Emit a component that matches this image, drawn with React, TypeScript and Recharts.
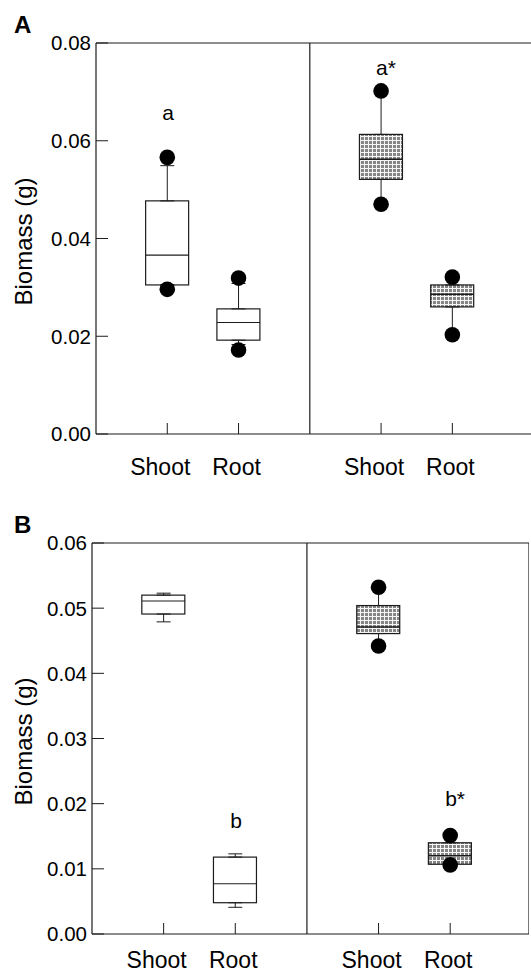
import React from 'react';
import { ComposedChart, Bar, Scatter, XAxis, YAxis, ReferenceLine, ErrorBar } from 'recharts';

const FONT = '"Liberation Sans", Arial, Helvetica, sans-serif';
const INK = '#1c1c1c';

// categories
const xPositions = [1, 2, 4, 5];
const xLabels = ['Shoot', 'Root', 'Shoot', 'Root'];
const hatched = [false, false, true, true];

// Panel A
const aTicks = [0, 0.02, 0.04, 0.06, 0.08];
const aQ1 = [0.0305, 0.0192, 0.0521, 0.026];
const aMedian = [0.0366, 0.0228, 0.0562, 0.0286];
const aQ3 = [0.0477, 0.0256, 0.0613, 0.0305];
const aWhiskerLow = [0.0305, 0.0183, 0.047, 0.0203];
const aWhiskerHigh = [0.0549, 0.0308, 0.0702, 0.0321];
const aOutliers = [
  [0.0566, 0.0296],
  [0.0319, 0.0172],
  [0.0702, 0.047],
  [0.0321, 0.0203],
];
const aNoteText = ['a', 'a*'];
const aNoteX = [1, 4];
const aNoteY = [0.0657, 0.0751];

// Panel B
const bTicks = [0, 0.01, 0.02, 0.03, 0.04, 0.05, 0.06];
const bQ1 = [0.0491, 0.0048, 0.0461, 0.0107];
const bMedian = [0.0511, 0.0077, 0.0471, 0.012];
const bQ3 = [0.052, 0.0118, 0.0504, 0.014];
const bWhiskerLow = [0.0479, 0.0041, 0.0442, 0.0107];
const bWhiskerHigh = [0.0523, 0.0123, 0.0532, 0.0151];
const bOutliers = [[], [], [0.0532, 0.0442], [0.0151, 0.0106]];
const bNoteText = ['b', 'b*'];
const bNoteX = [2, 5];
const bNoteY = [0.0174, 0.0208];

function buildRows(q1: number[], med: number[], q3: number[], wLow: number[], wHigh: number[]) {
  return xPositions.map((x, i) => ({
    x,
    q1: q1[i],
    median: med[i],
    q3: q3[i],
    box: [q1[i], q3[i]],
    upperErr: [0, Math.max(0, wHigh[i] - q3[i])],
    lowerErr: [Math.max(0, q1[i] - wLow[i]), 0],
    hatched: hatched[i],
  }));
}
function buildDots(outliers: number[][]) {
  return outliers.flatMap((vals, i) => vals.map((v) => ({ x: xPositions[i], y: v })));
}
function buildNotes(text: string[], xs: number[], ys: number[]) {
  return text.map((t, i) => ({ x: xs[i], y: ys[i], text: t }));
}

const rowsA = buildRows(aQ1, aMedian, aQ3, aWhiskerLow, aWhiskerHigh);
const rowsB = buildRows(bQ1, bMedian, bQ3, bWhiskerLow, bWhiskerHigh);
const dotsA = buildDots(aOutliers);
const dotsB = buildDots(bOutliers);
const notesA = buildNotes(aNoteText, aNoteX, aNoteY);
const notesB = buildNotes(bNoteText, bNoteX, bNoteY);

const BOX_W = 43;

const BoxShape = (props: any) => {
  const { x, y, width, height, payload } = props;
  if (x == null || y == null) return <g />;
  const top = Math.min(y, y + height);
  const h = Math.abs(height);
  const isH = payload && payload.hatched;
  return (
    <g>
      {isH && (
        <defs>
          <pattern id="hatchPat" width={4} height={4} patternUnits="userSpaceOnUse">
            <rect width={4} height={4} fill="#858585" />
            <path d="M0 0.5H4M0.5 0V4" stroke="#f6f6f6" strokeWidth={1} />
          </pattern>
        </defs>
      )}
      <rect x={x} y={top} width={width} height={h} fill={isH ? 'url(#hatchPat)' : '#fff'} stroke={INK} strokeWidth={1.2} />
    </g>
  );
};

const MedianShape = (props: any) => {
  const { cx, cy, payload } = props;
  if (cx == null || cy == null) return <g />;
  return (
    <line x1={cx - BOX_W / 2} x2={cx + BOX_W / 2} y1={cy} y2={cy} stroke={INK} strokeWidth={payload && payload.hatched ? 1.6 : 1.1} />
  );
};

const EmptyShape = () => <g />;

const DotShape = (props: any) => {
  const { cx, cy } = props;
  if (cx == null || cy == null) return <g />;
  return <circle cx={cx} cy={cy} r={7.8} fill="#000" />;
};

const NoteShape = (props: any) => {
  const { cx, cy, payload } = props;
  if (cx == null || cy == null) return <g />;
  return (
    <text x={cx - 5} y={cy} dy="0.36em" textAnchor="start" fontSize={21} fontFamily={FONT} fill="#000">
      {payload.text}
    </text>
  );
};

const makeXTick = (labelOffset: number) => (props: any) => {
  const { x, y, payload } = props;
  const idx = xPositions.indexOf(payload.value);
  const label = idx >= 0 ? xLabels[idx] : '';
  const dx = label === 'Shoot' ? -7 : -2;
  return (
    <g>
      <line x1={x} x2={x} y1={y} y2={y - 11} stroke={INK} strokeWidth={1} />
      <text x={x + dx} y={y + labelOffset} textAnchor="middle" fontSize={23} fontFamily={FONT} fill="#000">
        {label}
      </text>
    </g>
  );
};

const YTick = (props: any) => {
  const { x, y, payload } = props;
  const axisX = x + 5;
  return (
    <g>
      <line x1={axisX} x2={axisX + 12} y1={y} y2={y} stroke={INK} strokeWidth={1} />
      <text x={x} y={y} dy="0.36em" textAnchor="end" fontSize={20.5} fontFamily={FONT} fill="#000">
        {Number(payload.value).toFixed(2)}
      </text>
    </g>
  );
};

const makeYLabel = (fallback: any) => (props: any) => {
  const vb = (props && props.viewBox) || fallback;
  const cx = vb.x + 23;
  const cy = vb.y + vb.height / 2 + 3;
  return (
    <text x={cx} y={cy} transform={`rotate(-90 ${cx} ${cy})`} textAnchor="middle" dominantBaseline="central" fontSize={24} fontFamily={FONT} fill="#000">
      Biomass (g)
    </text>
  );
};

function Panel(props: {
  rows: any[];
  dots: any[];
  notes: any[];
  ticks: number[];
  yMax: number;
  xMax: number;
  width: number;
  axisWidth: number;
  labelOffset: number;
  showRight: boolean;
}) {
  const { rows, dots, notes, ticks, yMax, xMax, width, axisWidth, labelOffset, showRight } = props;
  return (
    <ComposedChart width={width} height={480} data={rows} margin={{ top: 43, right: 0, bottom: 6, left: 0 }}>
      <XAxis
        dataKey="x"
        type="number"
        domain={[0, xMax]}
        ticks={xPositions}
        interval={0}
        allowDataOverflow
        height={40}
        tickSize={0}
        tickMargin={0}
        axisLine={{ stroke: INK, strokeWidth: 1.2 }}
        tick={makeXTick(labelOffset)}
      />
      <YAxis
        type="number"
        domain={[0, yMax]}
        ticks={ticks}
        interval={0}
        width={axisWidth}
        tickSize={0}
        tickMargin={5}
        axisLine={{ stroke: INK, strokeWidth: 1.2 }}
        tick={YTick}
        label={makeYLabel({ x: 0, y: 43, width: axisWidth, height: 391 })}
      />
      <ReferenceLine y={yMax} stroke={INK} strokeWidth={1.2} />
      <ReferenceLine x={3} stroke={INK} strokeWidth={1.2} />
      {showRight && <ReferenceLine x={xMax} stroke={INK} strokeWidth={1.2} />}
      <Bar dataKey="box" barSize={BOX_W} shape={BoxShape} isAnimationActive={false} />
      <Scatter data={rows} dataKey="q3" shape={EmptyShape} isAnimationActive={false}>
        <ErrorBar dataKey="upperErr" direction="y" width={7} stroke={INK} strokeWidth={1} />
      </Scatter>
      <Scatter data={rows} dataKey="q1" shape={EmptyShape} isAnimationActive={false}>
        <ErrorBar dataKey="lowerErr" direction="y" width={7} stroke={INK} strokeWidth={1} />
      </Scatter>
      <Scatter data={rows} dataKey="median" shape={MedianShape} isAnimationActive={false} />
      <Scatter data={dots} dataKey="y" shape={DotShape} isAnimationActive={false} />
      <Scatter data={notes} dataKey="y" shape={NoteShape} isAnimationActive={false} />
    </ComposedChart>
  );
}

export default function App() {
  return (
    <div style={{ position: 'absolute', left: 0, top: 0, width: 531, height: 973, overflow: 'hidden', background: '#fff' }}>
      <svg width={60} height={40} style={{ position: 'absolute', left: 0, top: 0 }}>
        <text x={14} y={33} fontSize={24} fontWeight="bold" fontFamily={FONT} fill="#000">A</text>
      </svg>
      <div style={{ position: 'absolute', left: 0, top: 0 }}>
        <Panel rows={rowsA} dots={dotsA} notes={notesA} ticks={aTicks} yMax={0.08} xMax={6.3} width={545} axisWidth={96} labelOffset={41} showRight={false} />
      </div>
      <svg width={60} height={40} style={{ position: 'absolute', left: 0, top: 500 }}>
        <text x={14} y={33} fontSize={24} fontWeight="bold" fontFamily={FONT} fill="#000">B</text>
      </svg>
      <div style={{ position: 'absolute', left: 0, top: 500 }}>
        <Panel rows={rowsB} dots={dotsB} notes={notesB} ticks={bTicks} yMax={0.06} xMax={6.1} width={529} axisWidth={92} labelOffset={34} showRight={true} />
      </div>
    </div>
  );
}
